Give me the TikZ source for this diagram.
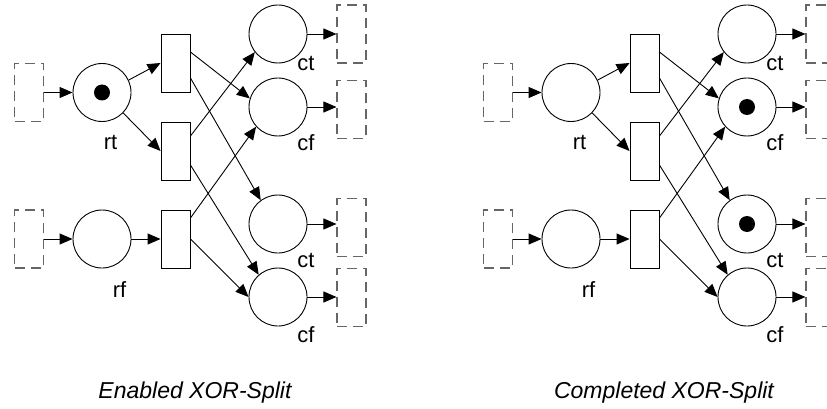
\documentclass[tikz,border=0pt]{standalone}
\usepackage{fontspec}
\setmainfont{Liberation Sans}
\usetikzlibrary{arrows.meta}

\begin{document}
\begin{tikzpicture}[x=1pt,y=-1pt,line width=0.9pt,
    >={Triangle[length=13pt,width=11pt]},
    pl/.style={draw,circle,minimum size=58pt,inner sep=0pt},
    tr/.style={draw,rectangle,minimum width=29pt,minimum height=58pt,inner sep=0pt},
    ghost/.style={draw=black!60,line width=1.1pt,dash pattern=on 10pt off 6pt,minimum width=29pt,minimum height=58pt,inner sep=0pt},
    lbl/.style={font=\fontsize{22}{26}\selectfont,inner sep=0pt},
    capt/.style={font=\fontsize{23}{27}\selectfont\itshape,inner sep=0pt}]
			\useasboundingbox (0,0) rectangle (827,409);
			% enabled
			\node[ghost] (Lin1) at (29,92.5) {};
			\node[ghost] (Lin2) at (29,239) {};
			\node[pl] (Lrt) at (102,92.5) {};
			\node[pl] (Lrf) at (102,239) {};
			\node[tr] (Lt1) at (175.5,63) {};
			\node[tr] (Lt2) at (175.5,151) {};
			\node[tr] (Lt3) at (175.5,239) {};
			\node[pl] (Lct1) at (278,34) {};
			\node[pl] (Lcf1) at (278,107) {};
			\node[pl] (Lct2) at (278,224) {};
			\node[pl] (Lcf2) at (278,297) {};
			\node[ghost] (Lo1) at (351.5,34) {};
			\node[ghost] (Lo2) at (351.5,109.5) {};
			\node[ghost] (Lo3) at (351.5,227.5) {};
			\node[ghost] (Lo4) at (351.5,297.5) {};
			\fill (Lrt) circle (8pt);
			\node[lbl] (Lrtl) at (110.5,142.5) {rt};
			\node[lbl] (Lrfl) at (119.5,289.5) {rf};
			\node[lbl] (Lct1l) at (306,63.5) {ct};
			\node[lbl] (Lcf1l) at (306,142.5) {cf};
			\node[lbl] (Lct2l) at (306,260) {ct};
			\node[lbl] (Lcf2l) at (306,335) {cf};
			\draw[->] (Lin1.east) -- (Lrt);
			\draw[->] (Lin2.east) -- (Lrf);
			\draw[->] (Lrt.25) -- (Lt1.west);
			\draw[->] (Lrt.-44) -- (Lt2.west);
			\draw[->] (Lrf) -- (Lt3);
			\draw[->] ([yshift=11pt]Lt1.east) -- (Lcf1.163);
			\draw[->] ([yshift=-15pt]Lt1.east) -- (Lct2.126);
			\draw[->] ([yshift=15pt]Lt2.east) -- (Lct1.218);
			\draw[->] ([yshift=-14pt]Lt2.east) -- (Lcf2.131);
			\draw[->] ([yshift=21pt]Lt3.east) -- (Lcf1.222);
			\draw[->] (Lt3.east) -- (Lcf2.west);
			\draw[->] (Lct1.east) -- (Lct1.east -| Lo1.west);
			\draw[->] (Lcf1.east) -- (Lcf1.east -| Lo2.west);
			\draw[->] (Lct2.east) -- (Lct2.east -| Lo3.west);
			\draw[->] (Lcf2.east) -- (Lcf2.east -| Lo4.west);
			\node[capt] (Lcap) at (195,393) {Enabled XOR-Split};
			% completed
			\node[ghost] (Rin1) at (498,92.5) {};
			\node[ghost] (Rin2) at (498,239) {};
			\node[pl] (Rrt) at (571,92.5) {};
			\node[pl] (Rrf) at (571,239) {};
			\node[tr] (Rt1) at (644.5,63) {};
			\node[tr] (Rt2) at (644.5,151) {};
			\node[tr] (Rt3) at (644.5,239) {};
			\node[pl] (Rct1) at (747,34) {};
			\node[pl] (Rcf1) at (747,107) {};
			\node[pl] (Rct2) at (747,224) {};
			\node[pl] (Rcf2) at (747,297) {};
			\node[ghost] (Ro1) at (820.5,34) {};
			\node[ghost] (Ro2) at (820.5,109.5) {};
			\node[ghost] (Ro3) at (820.5,227.5) {};
			\node[ghost] (Ro4) at (820.5,297.5) {};
			\fill (Rcf1) circle (8pt);
			\fill (Rct2) circle (8pt);
			\node[lbl] (Rrtl) at (579.5,142.5) {rt};
			\node[lbl] (Rrfl) at (588.5,289.5) {rf};
			\node[lbl] (Rct1l) at (775,63.5) {ct};
			\node[lbl] (Rcf1l) at (775,142.5) {cf};
			\node[lbl] (Rct2l) at (775,260) {ct};
			\node[lbl] (Rcf2l) at (775,335) {cf};
			\draw[->] (Rin1.east) -- (Rrt);
			\draw[->] (Rin2.east) -- (Rrf);
			\draw[->] (Rrt.25) -- (Rt1.west);
			\draw[->] (Rrt.-44) -- (Rt2.west);
			\draw[->] (Rrf) -- (Rt3);
			\draw[->] ([yshift=11pt]Rt1.east) -- (Rcf1.163);
			\draw[->] ([yshift=-15pt]Rt1.east) -- (Rct2.126);
			\draw[->] ([yshift=15pt]Rt2.east) -- (Rct1.218);
			\draw[->] ([yshift=-14pt]Rt2.east) -- (Rcf2.131);
			\draw[->] ([yshift=21pt]Rt3.east) -- (Rcf1.222);
			\draw[->] (Rt3.east) -- (Rcf2.west);
			\draw[->] (Rct1.east) -- (Rct1.east -| Ro1.west);
			\draw[->] (Rcf1.east) -- (Rcf1.east -| Ro2.west);
			\draw[->] (Rct2.east) -- (Rct2.east -| Ro3.west);
			\draw[->] (Rcf2.east) -- (Rcf2.east -| Ro4.west);
			\node[capt] (Rcap) at (664,393) {Completed XOR-Split};
\end{tikzpicture}
\end{document}
